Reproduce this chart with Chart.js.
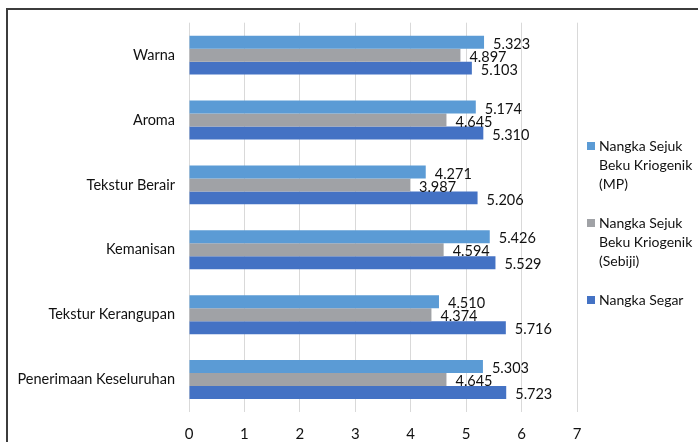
<!DOCTYPE html>
<html>
<head>
<meta charset="utf-8">
<script src="https://cdn.jsdelivr.net/npm/chart.js@4"></script>
<style>
  body { margin: 0; background: #fff; }
  #wrap { position: relative; width: 698px; height: 442px; overflow: hidden; }
  #frame { position: absolute; left: 6px; top: 8px; width: 760px; height: 520px; border: 2px solid #3c3c3c; }
  canvas { position: absolute; left: 0; top: 0; }
</style>
</head>
<body>
<div id="wrap">
  <div id="frame"></div>
  <canvas id="chart" width="698" height="442"></canvas>
</div>
<script>
var categories = ['Warna', 'Aroma', 'Tekstur Berair', 'Kemanisan', 'Tekstur Kerangupan', 'Penerimaan Keseluruhan'];
var mp = [5.323, 5.174, 4.271, 5.426, 4.510, 5.303];
var sebiji = [4.897, 4.645, 3.987, 4.594, 4.374, 4.645];
var segar = [5.103, 5.310, 5.206, 5.529, 5.716, 5.723];
var seriesNames = ['Nangka Sejuk Beku Kriogenik (MP)', 'Nangka Sejuk Beku Kriogenik (Sebiji)', 'Nangka Segar'];
var seriesColors = ['#5b9bd5', '#a0a2a6', '#4472c4'];

var FONT = 'Lato, "Open Sans", sans-serif';

// numbers printed just past the end of each bar
var valueLabels = {
  id: 'valueLabels',
  afterDatasetsDraw: function(chart) {
    var ctx = chart.ctx;
    ctx.save();
    ctx.font = '14.5px ' + FONT;
    ctx.fillStyle = '#111';
    ctx.textBaseline = 'middle';
    chart.data.datasets.forEach(function(ds, i) {
      chart.getDatasetMeta(i).data.forEach(function(bar, j) {
        ctx.fillText(ds.data[j].toFixed(3), bar.x + 9, bar.y + 2);
      });
    });
    ctx.restore();
  }
};

// legend on the right, names wrapped over several lines
var sideLegend = {
  id: 'sideLegend',
  afterDraw: function(chart) {
    var ctx = chart.ctx;
    var x = 587, maxW = 98, lineH = 19, gap = 20;
    ctx.save();
    ctx.font = '14px ' + FONT;
    ctx.textBaseline = 'middle';
    var blocks = chart.data.datasets.map(function(ds) {
      var words = ds.label.split(' '), lines = [], cur = '';
      words.forEach(function(w) {
        var t = cur ? cur + ' ' + w : w;
        if (cur && ctx.measureText(t).width > maxW) { lines.push(cur); cur = w; }
        else cur = t;
      });
      lines.push(cur);
      return { lines: lines, color: ds.backgroundColor };
    });
    var total = 0;
    blocks.forEach(function(b, i) { total += b.lines.length * lineH + (i ? gap : 0); });
    var y = 223 - total / 2 + lineH / 2;
    blocks.forEach(function(b) {
      ctx.fillStyle = b.color;
      ctx.fillRect(x, y - 4, 8, 8);
      ctx.fillStyle = '#111';
      b.lines.forEach(function(l, k) {
        ctx.fillText(l, x + 12, y + k * lineH);
      });
      y += b.lines.length * lineH + gap;
    });
    ctx.restore();
  }
};

new Chart(document.getElementById('chart'), {
  type: 'bar',
  data: {
    labels: categories,
    datasets: [
      { label: seriesNames[0], data: mp, backgroundColor: seriesColors[0] },
      { label: seriesNames[1], data: sebiji, backgroundColor: seriesColors[1] },
      { label: seriesNames[2], data: segar, backgroundColor: seriesColors[2] }
    ]
  },
  options: {
    indexAxis: 'y',
    responsive: false,
    animation: false,
    categoryPercentage: 0.6,
    barPercentage: 1.0,
    layout: { padding: { top: 20, right: 121, left: 0, bottom: 0 } },
    plugins: { legend: { display: false }, tooltip: { enabled: false } },
    scales: {
      x: {
        min: 0, max: 7,
        ticks: { stepSize: 1, padding: 13, color: '#111', font: { family: FONT, size: 15 } },
        grid: { color: '#d9d9d9', lineWidth: 1, drawTicks: false },
        border: { display: false },
        afterFit: function(s) { s.height = 30; }
      },
      y: {
        ticks: { padding: 14, color: '#111', font: { family: FONT, size: 14.5 } },
        grid: { display: false, drawTicks: false },
        border: { display: false },
        afterFit: function(s) { s.width = 189; }
      }
    }
  },
  plugins: [valueLabels, sideLegend]
});
</script>
</body>
</html>
